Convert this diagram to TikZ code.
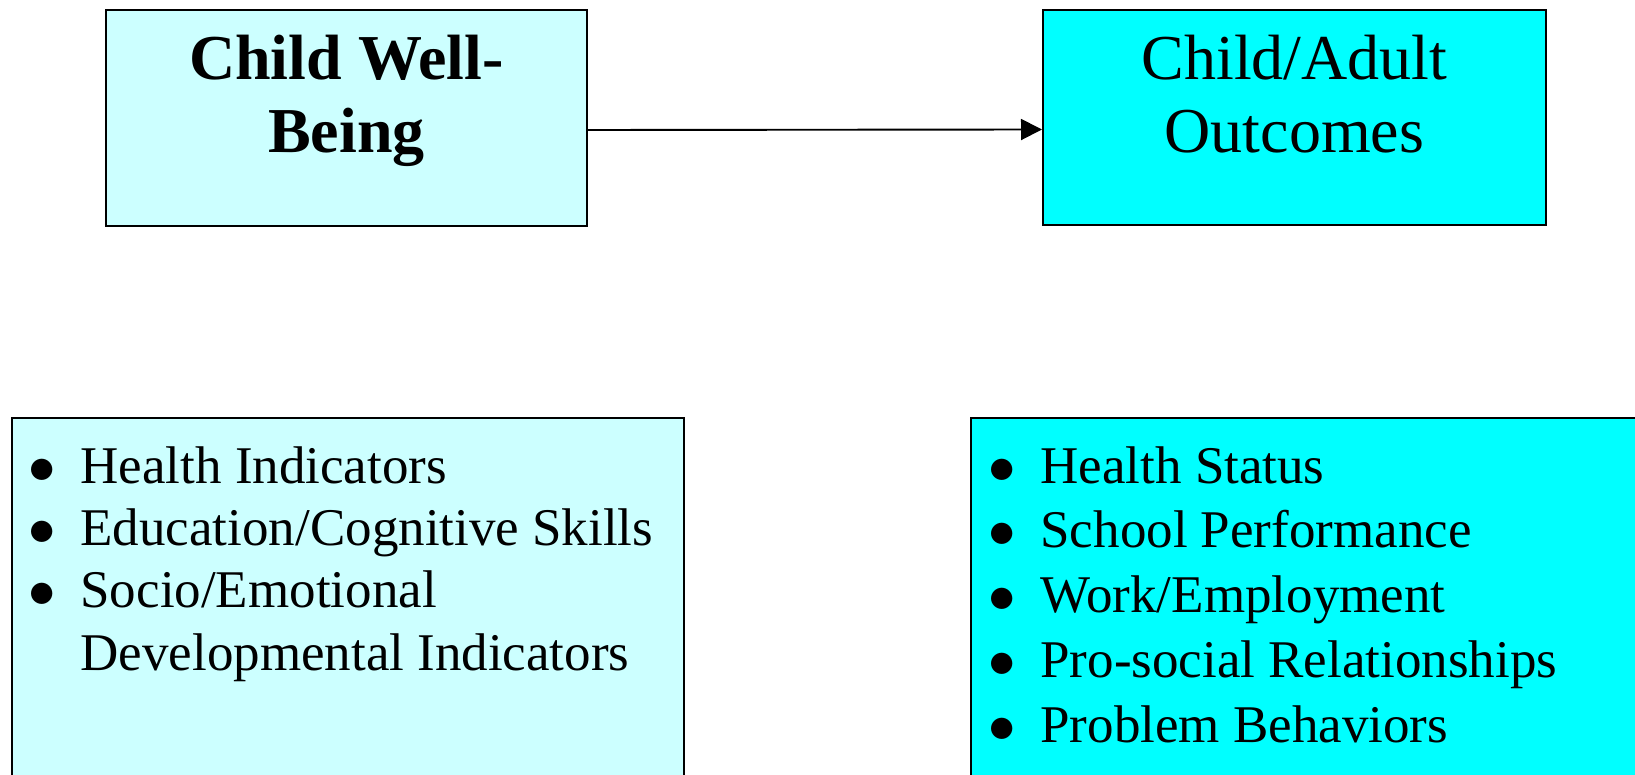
\documentclass[tikz,border=0pt]{standalone}
\usepackage{fontspec}
\setmainfont{Liberation Serif}
\usepackage{graphicx}
\usepackage{xcolor}
\usepackage{tikz}
\usetikzlibrary{arrows.meta}
\definecolor{paleCyan}{RGB}{204,255,255}
\definecolor{brightCyan}{RGB}{0,255,255}
\newcommand{\listdot}{\scalebox{1.1}{$\bullet$}}
\tikzset{
	box/.style={
		rectangle,
		draw=black,
		line width=1pt,
		inner sep=0pt,
	},
	headtext/.style={
		inner sep=0pt,
		anchor=base,
		font=\fontsize{32}{36.5}\selectfont,
	},
	bullets/.style={
		inner sep=0pt,
		anchor=base west,
	},
	link/.style={
		line width=0.95pt,
		-{Triangle[length=10.5pt,width=10.5pt]},
	},
}

\begin{document}
\begin{tikzpicture}[x=0.5pt,y=-0.5pt]
	% Page
	\useasboundingbox (0,0) rectangle (1635,775);
	\fill[white] (0,0) rectangle (1635,775);
	\clip (0,0) rectangle (1635,775);

	% Top boxes
	\node[box, fill=paleCyan, minimum width=240.5pt, minimum height=108pt] (wellbeing) at (346.5,118) {};
	\node[box, fill=brightCyan, minimum width=251.5pt, minimum height=107.5pt] (outcomes) at (1294.5,117.5) {};
	\node[headtext] (wellbeingtitle) at (346.5,80) {\bfseries\begin{tabular}[t]{@{}c@{}}Child Well-\\Being\end{tabular}};
	\node[headtext] (outcomestitle) at (1294.5,80) {\begin{tabular}[t]{@{}c@{}}Child/Adult\\Outcomes\end{tabular}};

	% Draw arrow from well-being to outcomes
	\draw[link] ([yshift=-6pt]wellbeing.east) -- ([yshift=-6pt]outcomes.west);

	% Bottom boxes (run off the page)
	\node[box, fill=paleCyan, anchor=north west, minimum width=336pt, minimum height=200pt] (indicators) at (11,417) {};
	\node[box, fill=brightCyan, anchor=north west, minimum width=350pt, minimum height=200pt] (results) at (970,417) {};

	% Lists
	\node[bullets, font=\fontsize{26.5}{31.2}\selectfont] (indicatorlist) at (28.4,483) {%
		\begin{tabular}[t]{@{}l@{\hspace{12.17pt}}l@{}}
			\listdot & Health Indicators\\
			\listdot & Education/Cognitive Skills\\
			\listdot & Socio/Emotional\\
			 & Developmental Indicators
		\end{tabular}};
	\node[bullets, font=\fontsize{26.5}{32.4}\selectfont] (resultlist) at (988.4,483) {%
		\begin{tabular}[t]{@{}l@{\hspace{12.17pt}}l@{}}
			\listdot & Health Status\\
			\listdot & School Performance\\
			\listdot & Work/Employment\\
			\listdot & Pro-social Relationships\\
			\listdot & Problem Behaviors
		\end{tabular}};
\end{tikzpicture}
\end{document}
